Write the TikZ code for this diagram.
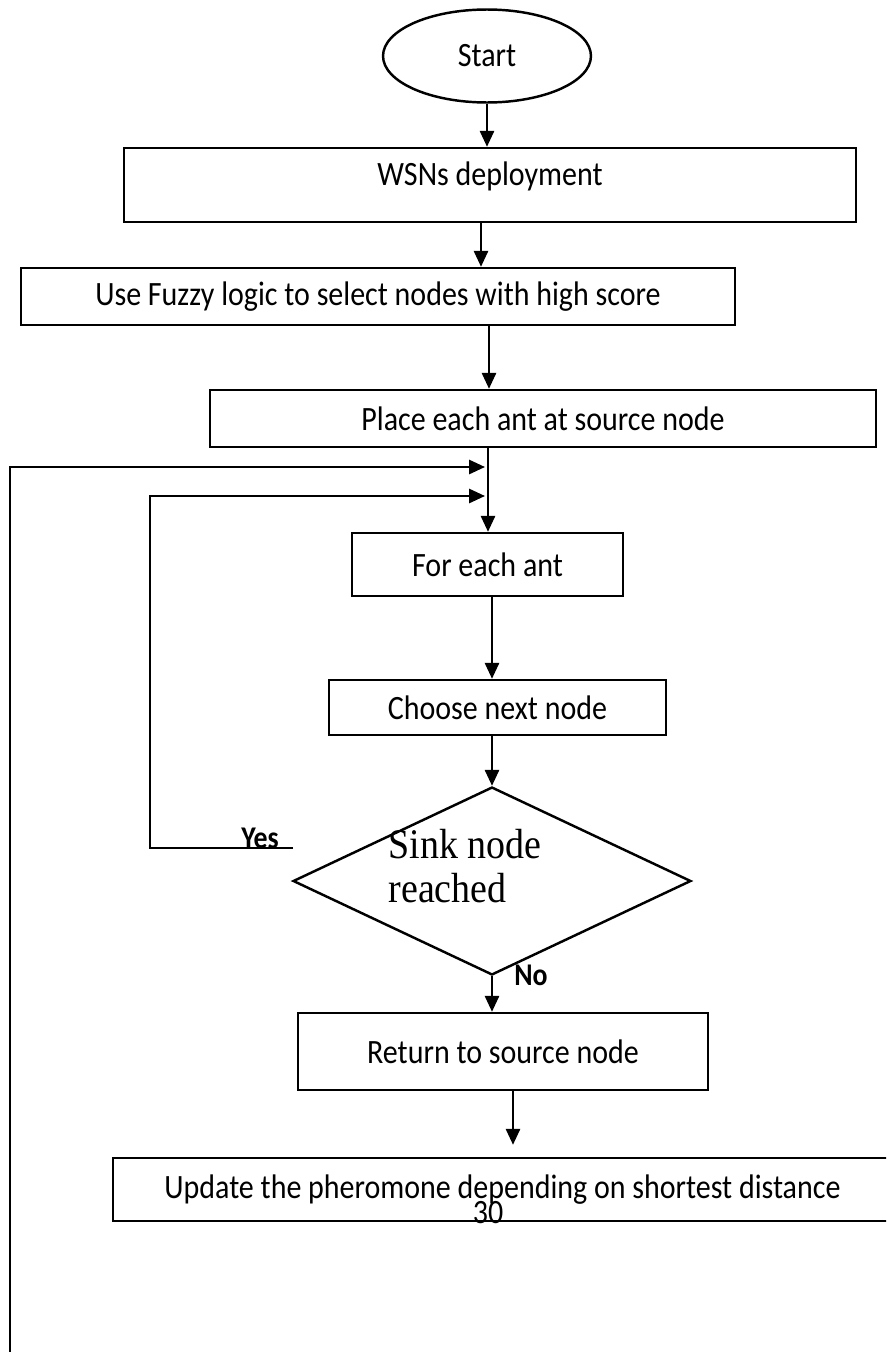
\documentclass[tikz,border=0pt]{standalone}
\usepackage{fontspec}
\setmainfont{Carlito}[FakeStretch=0.88]
\newfontfamily\sinkfont{Liberation Serif}[FakeStretch=0.9]
\usetikzlibrary{arrows.meta,shapes.geometric,calc}

\begin{document}
\begin{tikzpicture}[x=0.02cm, y=-0.02cm,
        box/.style={draw, rectangle, line width=1.4pt, inner sep=0pt, font=\fontsize{19.4}{23}\selectfont},
        startbox/.style={draw, ellipse, line width=1.4pt, inner sep=0pt, font=\fontsize{19.4}{23}\selectfont},
        decision/.style={draw, diamond, line width=1.4pt, inner sep=0pt},
        txt/.style={inner sep=0pt, font=\fontsize{19.4}{23}\selectfont},
        yesno/.style={inner sep=0pt, font=\bfseries\fontsize{18}{21}\selectfont},
        arr/.style={line width=1.3pt, -{Triangle[length=9pt,width=8pt]}}]
                \useasboundingbox (0,0) rectangle (886,1352);
                \clip (0,0) rectangle (886,1352);
                \node[startbox, minimum width=4.16cm, minimum height=1.86cm] (start) at (487,56) {Start};
                \node[box, minimum width=14.64cm, minimum height=1.48cm] (wsn) at (490,185) {};
                    \node[txt] (wsntext) at (490,176) {WSNs deployment};
                \node[box, minimum width=14.28cm, minimum height=1.14cm] (fuzzy) at (378,296.5) {Use Fuzzy logic to select nodes with high score};
                \node[box, minimum width=13.32cm, minimum height=1.14cm] (place) at (543,418.5) {Place each ant at source node};
                \node[box, minimum width=5.42cm, minimum height=1.26cm] (each) at (487.5,564.5) {For each ant};
                \node[box, minimum width=6.74cm, minimum height=1.1cm] (choose) at (497.5,707.5) {Choose next node};
                \node[decision, minimum width=7.96cm, minimum height=3.76cm] (sink) at (492,881) {};
                    \node[inner sep=0pt, align=left, font=\sinkfont\fontsize{24}{25.5}\selectfont] (sinktext) at (465,866) {Sink node\\reached};
                \node[box, minimum width=8.2cm, minimum height=1.54cm] (ret) at (503,1051.5) {Return to source node};
                \node[box, minimum width=15.58cm, minimum height=1.26cm] (update) at (502.5,1189.5) {Update the pheromone depending on shortest distance};
                \node[txt] (pagenum) at (488,1213) {30};
                \node[yesno] (yes) at (260,838) {Yes};
                \node[yesno] (no) at (531,975) {No};
                \coordinate (x2) at (481,0);
                \coordinate (x3) at (489,0);
                \coordinate (x4) at (488,0);
                \coordinate (x5) at (492,0);
                \coordinate (x7) at (513,0);
                \coordinate (join1) at (485,467);
                \coordinate (join2) at (485,496);
                \coordinate (loopout) at (10,1360);
                \coordinate (loopyes) at (293,848);
                \draw[arr] (start.south) -- (start.south |- wsn.north);
                \draw[arr] (wsn.south -| x2) -- (fuzzy.north -| x2);
                \draw[arr] (fuzzy.south -| x3) -- (place.north -| x3);
                \draw[arr] (place.south -| x4) -- (each.north -| x4);
                \draw[arr] (each.south -| x5) -- (choose.north -| x5);
                \draw[arr] (choose.south -| sink.north) -- (sink.north);
                \draw[arr] (sink.south) -- (sink.south |- ret.north);
                \draw[arr, shorten >=0.24cm] (ret.south -| x7) -- (update.north -| x7);
                \draw[arr] (loopout) |- (join1);
                \draw[arr] (loopyes) -- ++(-143,0) |- (join2);
            \end{tikzpicture}
\end{document}
